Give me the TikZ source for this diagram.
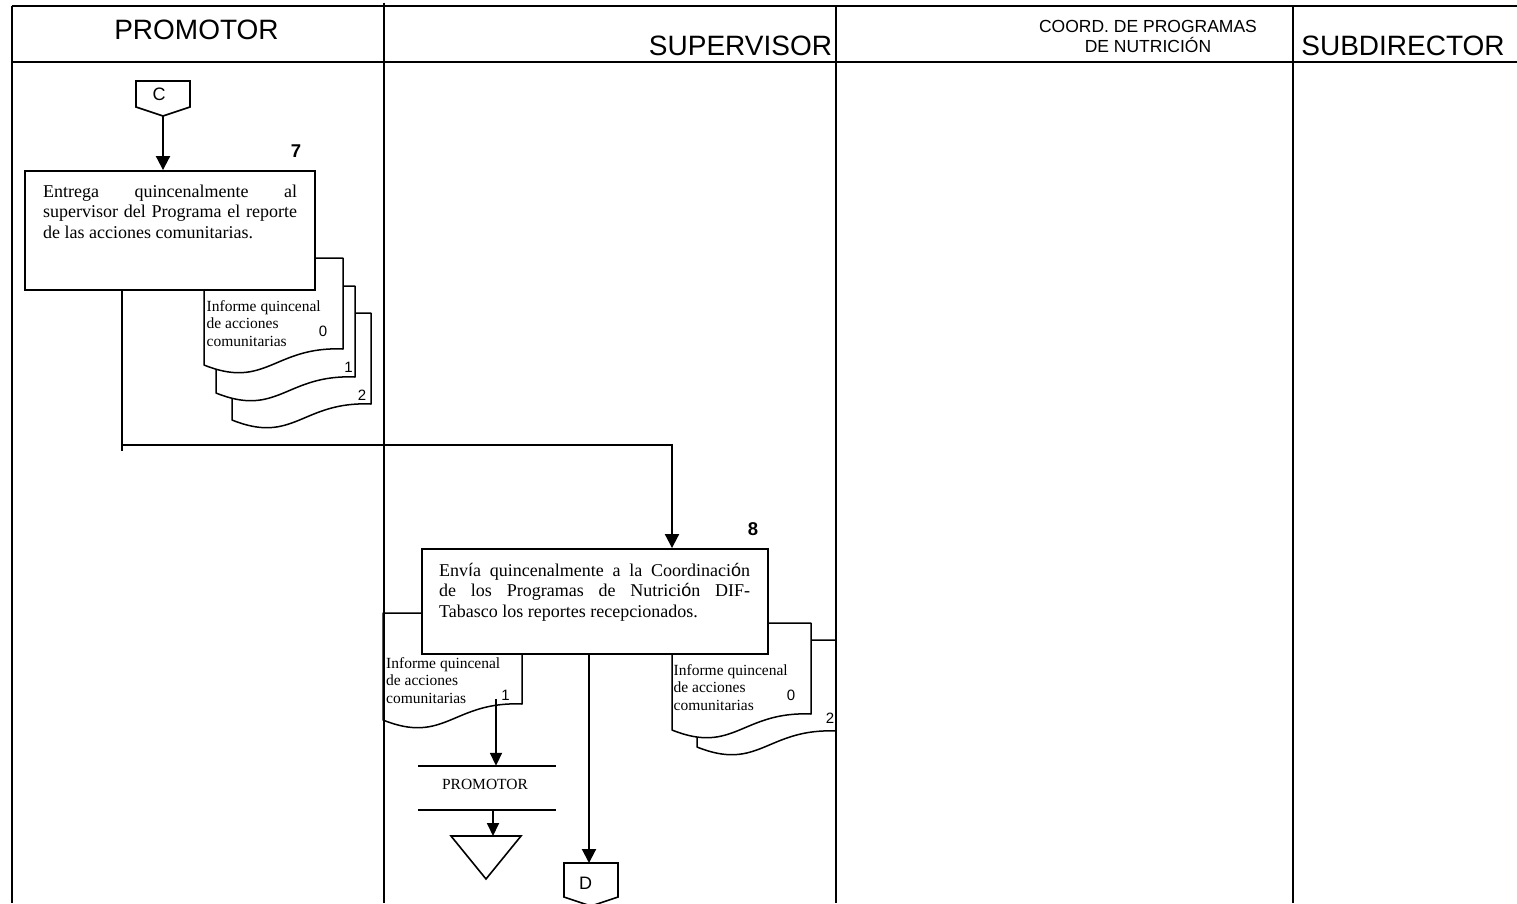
\documentclass[tikz,border=0pt]{standalone}
\usepackage{fontspec}
\setmainfont{Liberation Serif}
\setsansfont{Liberation Sans}
\usetikzlibrary{arrows.meta}

% accented letters that the source sets in a sans face
\newcommand{\sfchar}[1]{{\sffamily #1}}
% document symbol with its top-left corner at (#1,#2)
\newcommand{\docshape}[2]{%
  \path[docline,shift={(#1,#2)}] (0,0) -- (139,0) -- (139,91)
    .. controls (70,88) and (62,132) .. (0,107) -- cycle;}

\tikzset{
  frame/.style={line width=2pt},
  plain/.style={line width=2pt},
  shapeline/.style={line width=1.6pt, line join=miter},
  boxst/.style={draw, line width=1.9pt, fill=white, inner sep=0pt},
  docline/.style={draw, line width=1.5pt, fill=white, line join=round},
  flow/.style={line width=2pt, -{Triangle[length=14pt,width=14pt]}},
  flowsmall/.style={line width=1.8pt, -{Triangle[length=13pt,width=12pt]}},
  head/.style={font=\sffamily\fontsize{28}{30}\selectfont, inner sep=0pt, anchor=base},
  steptext/.style={font=\fontsize{18}{20.5}\selectfont, inner sep=0pt, anchor=base west},
  doctext/.style={font=\fontsize{15.5}{17.5}\selectfont, inner sep=0pt, anchor=base west},
  num/.style={font=\sffamily\fontsize{15}{17}\selectfont, inner sep=0pt, anchor=base},
  stepnum/.style={font=\sffamily\bfseries\fontsize{18.5}{20}\selectfont, inner sep=0pt, anchor=base},
  conn/.style={font=\sffamily\fontsize{18}{20}\selectfont, inner sep=0pt},
}

\begin{document}
\begin{tikzpicture}[x=1pt,y=-1pt]
\useasboundingbox (0,0) rectangle (1517,903);

% ---------- lane headings ----------
\node[head] (hProm) at (196.5,39) {PROMOTOR};
\node[head] (hSup) at (740.5,55) {SUPERVISOR};
\node[font=\sffamily\fontsize{17.5}{20}\selectfont, inner sep=0pt, anchor=base] (hCoord) at (1148,32)
  {\parbox[t]{300pt}{\centering COORD. DE PROGRAMAS\\ DE NUTRICIÓN}};
\node[head] (hSub) at (1403,55) {SUBDIRECTOR};

% ---------- off-page connector C ----------
\draw[shapeline] (136,81) -- (190,81) -- (190,107) -- (163,116) -- (136,107) -- cycle;
\node[conn] (cC) at (159,94.5) {C};
\coordinate (cCtip) at (163,116);

% ---------- step 7 with its report copies ----------
\docshape{232}{313}
\docshape{216}{286}
\docshape{204}{258}
\node[doctext] (d7txt) at (206.5,311)
  {\parbox[t]{125pt}{Informe quincenal\\de acciones\\comunitarias}};
\node[num] (d7n0) at (323,336.5) {0};
\node[num] (d7n1) at (348.5,372.5) {1};
\node[num] (d7n2) at (362,400.5) {2};

\node[boxst, minimum width=290pt, minimum height=119pt] (b7) at (170,230.5) {};
\node[steptext] (t7) at (43,197) {\parbox[t]{254pt}{%
  \makebox[254pt][s]{Entrega quincenalmente al}\\
  \makebox[254pt][s]{supervisor del Programa el reporte}\\
  de las acciones comunitarias.}};
\node[stepnum] (n7) at (296,157) {7};

\draw[flow] (cCtip) -- (b7.north -| cCtip);

% ---------- step 8 with its report copies ----------
\docshape{383}{613}
\node[doctext] (d8atxt) at (386,668)
  {\parbox[t]{125pt}{Informe quincenal\\de acciones\\comunitarias}};
\node[num] (d8an1) at (505.5,700) {1};

\docshape{697}{640}
\docshape{672}{623}
\node[doctext] (d8btxt) at (673.5,675)
  {\parbox[t]{125pt}{Informe quincenal\\de acciones\\comunitarias}};
\node[num] (d8bn0) at (791,700.5) {0};
\node[num] (d8bn2) at (830,723) {2};

\node[boxst, minimum width=346pt, minimum height=105pt] (b8) at (595,601.5) {};
\node[steptext] (t8) at (439,576) {\parbox[t]{311pt}{%
  \makebox[311pt][s]{Env\sfchar{í}a quincenalmente a la Coordinaci\sfchar{ó}n}\\
  \makebox[311pt][s]{de los Programas de Nutrici\sfchar{ó}n DIF-}\\
  Tabasco los reportes recepcionados.}};
\node[stepnum] (n8) at (753,535) {8};

% ---------- flow from step 7 to step 8 ----------
\coordinate (j1) at (122,445);
\coordinate (j2) at (672,445);
\draw[flow] (b7.south -| j1) -- (j1) -- (j2) -- (b8.north -| j2);
\draw[plain] (j1) -- ++(0,6);

% ---------- copy 1 filed with the promoter ----------
\coordinate (s1) at (496,699);
\node[minimum width=138pt, minimum height=44pt, inner sep=0pt] (arch) at (487,788) {};
\node[font=\fontsize{15.5}{17}\selectfont, inner sep=0pt, anchor=base] (archtxt) at (485,789.5) {PROMOTOR};
\draw[shapeline] (arch.north west) -- (arch.north east);
\draw[shapeline] (arch.south west) -- (arch.south east);
\draw[flowsmall] (s1) -- (arch.north -| s1);
\draw[shapeline] (451,836) -- (521,836) -- (486,879) -- cycle;
\coordinate (a2) at (493,836);
\draw[flowsmall] (arch.south -| a2) -- (a2);

% ---------- off-page connector D ----------
\draw[shapeline] (564,863) -- (618,863) -- (618,897) -- (591,906) -- (564,897) -- cycle;
\node[conn] (dD) at (585.5,883.5) {D};
\coordinate (dDtop) at (589,863);
\draw[flow] (b8.south -| dDtop) -- (dDtop);

% ---------- lane frame ----------
\draw[frame] (11.5,5.5) -- (1517,5.5);
\draw[frame] (11.5,61.5) -- (1517,61.5);
\draw[frame] (11.5,5.5) -- (11.5,903);
\draw[frame] (383.5,2.5) -- (383.5,903);
\draw[frame] (836,5.5) -- (836,903);
\draw[frame] (1293,5.5) -- (1293,903);
\end{tikzpicture}
\end{document}
